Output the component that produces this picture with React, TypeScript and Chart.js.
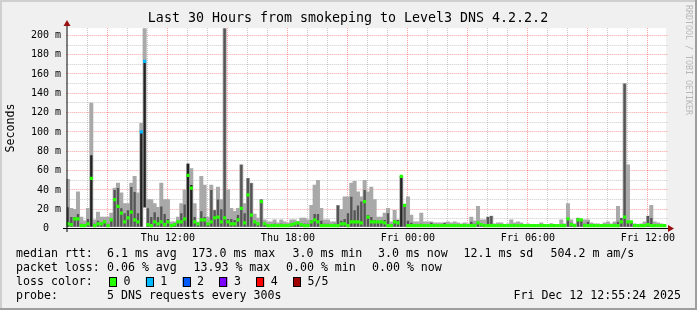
import React, { useEffect, useRef } from "react";
import { Chart, registerables } from "chart.js";
Chart.register(...registerables);

// Time window: Thu 06:55 -> Fri 12:55, 10-minute buckets (minutes counted from Thu 00:00)
const START_MINUTE = 415;
const BUCKET_MINUTES = 10;

// Smoke: max ping (light grey top), 4th ping (dark grey top), median (green), min ping (bottom) in ms
const maxRtt = [
  51, 21, 20, 38, 12, 8, 21, 130, 9, 17, 12, 12,
  12, 16, 42, 47, 37, 26, 26, 47, 54, 37, 109, 207,
  30, 30, 26, 22, 47, 30, 30, 7, 7, 12, 26, 40,
  67, 62, 26, 7, 54, 45, 12, 45, 19, 43, 30, 207,
  40, 21, 18, 21, 66, 26, 52, 47, 15, 11, 30, 9,
  7, 7, 9, 6, 9, 7, 6, 9, 9, 7, 11, 11,
  9, 24, 45, 50, 21, 9, 9, 7, 7, 24, 20, 33,
  33, 47, 49, 38, 33, 50, 38, 43, 30, 12, 12, 16,
  21, 7, 19, 9, 54, 24, 33, 14, 7, 7, 16, 7,
  7, 7, 6, 6, 6, 6, 7, 6, 7, 6, 5, 6,
  5, 12, 8, 23, 9, 9, 12, 13, 5, 6, 6, 4,
  5, 9, 6, 7, 6, 4, 5, 4, 4, 4, 6, 4,
  4, 5, 4, 4, 9, 5, 26, 9, 5, 11, 9, 9,
  9, 6, 5, 5, 4, 6, 7, 5, 7, 23, 11, 150,
  66, 7, 5, 4, 5, 7, 13, 24, 7, 6, 5, 4,
];
const q4Rtt = [
  22, 12, 12, 15, 5, 4, 10, 76, 5, 8, 6, 8,
  5, 10, 40, 42, 21, 16, 19, 43, 38, 16, 100, 173,
  21, 12, 17, 12, 23, 15, 10, 4, 4, 7, 16, 25,
  67, 45, 12, 5, 18, 12, 6, 40, 19, 30, 20, 207,
  10, 10, 9, 14, 66, 16, 52, 47, 8, 6, 30, 5,
  4, 4, 5, 4, 5, 4, 4, 5, 5, 7, 5, 5,
  5, 9, 15, 15, 8, 5, 5, 4, 5, 24, 8, 10,
  16, 33, 19, 24, 28, 40, 14, 12, 9, 8, 7, 9,
  16, 4, 9, 9, 54, 24, 8, 6, 4, 4, 5, 4,
  4, 6, 4, 4, 4, 6, 4, 4, 4, 4, 4, 4,
  4, 7, 5, 6, 5, 4, 12, 13, 4, 4, 4, 4,
  4, 4, 4, 4, 4, 4, 4, 4, 4, 4, 4, 4,
  4, 5, 4, 4, 4, 4, 11, 6, 4, 11, 9, 5,
  7, 4, 4, 4, 4, 4, 4, 4, 5, 7, 11, 150,
  7, 7, 4, 4, 4, 4, 13, 11, 4, 4, 4, 4,
];
const medianRtt = [
  5, 4, 10, 10, 3, 3, 5, 52, 3, 5, 5, 7,
  3, 9, 30, 23, 16, 7, 11, 17, 9, 7, 100, 173,
  4, 3, 7, 5, 7, 4, 7, 3, 4, 7, 7, 10,
  55, 42, 7, 5, 9, 9, 5, 7, 11, 12, 7, 11,
  7, 5, 5, 9, 21, 6, 35, 14, 7, 5, 28, 5,
  3, 3, 3, 3, 3, 3, 3, 4, 5, 6, 4, 3,
  3, 7, 9, 7, 3, 3, 3, 3, 3, 3, 5, 5,
  3, 7, 7, 7, 6, 28, 12, 7, 7, 7, 7, 6,
  3, 3, 7, 6, 54, 24, 3, 3, 3, 3, 3, 3,
  3, 3, 3, 3, 3, 3, 3, 3, 3, 3, 3, 3,
  3, 3, 3, 6, 4, 3, 3, 3, 3, 3, 3, 3,
  3, 3, 3, 3, 3, 3, 3, 3, 3, 3, 3, 3,
  3, 3, 3, 3, 3, 3, 10, 4, 3, 9, 9, 3,
  3, 3, 3, 3, 3, 3, 3, 3, 3, 3, 7, 12,
  7, 7, 3, 3, 3, 3, 4, 3, 3, 3, 3, 3,
];
const minRtt = [
  2, 2, 2, 2, 2, 2, 2, 2, 2, 2, 2, 2,
  2, 2, 2, 2, 2, 2, 2, 2, 2, 2, 2, 22,
  2, 2, 2, 2, 2, 2, 2, 2, 2, 2, 2, 2,
  2, 2, 2, 2, 2, 2, 2, 2, 2, 2, 2, 2,
  2, 2, 2, 2, 2, 2, 2, 2, 2, 2, 2, 2,
  2, 2, 2, 2, 2, 2, 2, 2, 2, 2, 2, 2,
  2, 2, 2, 2, 2, 2, 2, 2, 2, 2, 2, 2,
  2, 2, 2, 2, 2, 2, 2, 2, 2, 2, 2, 2,
  2, 2, 2, 2, 2, 2, 2, 2, 2, 2, 2, 2,
  2, 2, 2, 2, 2, 2, 2, 2, 2, 2, 2, 2,
  2, 2, 2, 2, 2, 2, 2, 2, 2, 2, 2, 2,
  2, 2, 2, 2, 2, 2, 2, 2, 2, 2, 2, 2,
  2, 2, 2, 2, 2, 2, 2, 2, 2, 2, 2, 2,
  2, 2, 2, 2, 2, 2, 2, 2, 2, 2, 2, 2,
  2, 2, 2, 2, 2, 2, 2, 2, 2, 2, 2, 2,
];
// buckets whose median is drawn in a loss colour (index into lossColors)
const lossBuckets = [
  { bucket: 22, loss: 1 },
  { bucket: 23, loss: 1 },
];

const categories = maxRtt.map((_, i) => {
  const m = START_MINUTE + i * BUCKET_MINUTES;
  const d = m >= 1440 ? "Fri" : "Thu";
  const mm = m % 1440;
  return `${d} ${String(Math.floor(mm / 60)).padStart(2, "0")}:${String(mm % 60).padStart(2, "0")}`;
});
const END_MINUTE = START_MINUTE + maxRtt.length * BUCKET_MINUTES;

const xTickLabels = ["Thu 12:00", "Thu 18:00", "Fri 00:00", "Fri 06:00", "Fri 12:00"];
const xTickMinutes = [720, 1080, 1440, 1800, 2160];
const yTickValues = [0, 20, 40, 60, 80, 100, 120, 140, 160, 180, 200];
const yTickLabels = ["  0  ", " 20 m", " 40 m", " 60 m", " 80 m", "100 m", "120 m", "140 m", "160 m", "180 m", "200 m"];
const Y_MAX = 207.6;

const title = "Last 30 Hours from smokeping to Level3 DNS 4.2.2.2";
// legend rows: [text, x] segments
const legendRows: [string, number][][] = [
  [["median rtt:", 16], ["6.1 ms avg", 107], ["173.0 ms max", 191.5], ["3.0 ms min", 292.5], ["3.0 ms now", 378], ["12.1 ms sd", 463.5], ["504.2 m am/s", 550.5]],
  [["packet loss:", 16], ["0.06 % avg", 107], ["13.93 % max", 193.5], ["0.00 % min", 286], ["0.00 % now", 372]],
  [["loss color:", 16]],
  [["probe:", 16], ["5 DNS requests every 300s", 107]],
];
const dateStamp = "Fri Dec 12 12:55:24 2025";
const lossColors = ["#26ff00", "#00b8ff", "#0059ff", "#7e00ff", "#ff0000", "#a10000"];
const lossLabels = ["0", "1", "2", "3", "4", "5/5"];

const MONO = "'DejaVu Sans Mono', monospace";

function minuteToPixel(chart: any, m: number) {
  const x = chart.scales.x;
  return x.getPixelForValue((m - START_MINUTE) / BUCKET_MINUTES - 0.5);
}

const rrdPlugin = {
  id: "rrd",
  beforeDraw(chart: any) {
    const { ctx, width, height, chartArea: a } = chart;
    ctx.save();
    ctx.fillStyle = "#F0F0F0";
    ctx.fillRect(0, 0, width, height);
    ctx.fillStyle = "#CFCFCF";
    ctx.fillRect(0, 0, width, 2);
    ctx.fillRect(0, 0, 2, height);
    ctx.fillStyle = "#9E9E9E";
    ctx.fillRect(0, height - 2, width, 2);
    ctx.fillRect(width - 2, 0, 2, height);
    ctx.fillStyle = "#FFFFFF";
    ctx.fillRect(a.left, a.top, a.right - a.left, a.bottom - a.top);
    ctx.restore();
  },
  beforeDatasetsDraw(chart: any) {
    const { ctx, chartArea: a, scales } = chart;
    const y = scales.y;
    ctx.save();
    ctx.lineWidth = 1;
    ctx.setLineDash([1, 1]);
    for (let v = 10; v <= 200; v += 10) {
      const py = Math.floor(y.getPixelForValue(v)) + 0.5;
      ctx.strokeStyle = v % 20 === 0 ? "rgba(255,0,0,0.38)" : "rgba(128,128,128,0.42)";
      ctx.beginPath();
      ctx.moveTo(a.left, py);
      ctx.lineTo(a.right + 1, py);
      ctx.stroke();
    }
    for (let h = Math.ceil(START_MINUTE / 60); h * 60 <= END_MINUTE; h++) {
      const px = Math.floor(minuteToPixel(chart, h * 60)) + 0.5;
      if (px < a.left + 2) continue;
      ctx.strokeStyle = h % 3 === 0 ? "rgba(255,0,0,0.38)" : "rgba(128,128,128,0.42)";
      ctx.beginPath();
      ctx.moveTo(px, a.top);
      ctx.lineTo(px, a.bottom);
      ctx.stroke();
    }
    ctx.restore();
  },
  afterDraw(chart: any) {
    const { ctx, scales } = chart;
    const y = scales.y;
    ctx.save();
    ctx.strokeStyle = "#000";
    ctx.lineWidth = 1;
    ctx.beginPath();
    ctx.moveTo(63, 228.5);
    ctx.lineTo(669, 228.5);
    ctx.stroke();
    ctx.beginPath();
    ctx.moveTo(67, 232);
    ctx.lineTo(67, 25);
    ctx.stroke();
    ctx.fillStyle = "#9a1010";
    ctx.beginPath();
    ctx.moveTo(668, 225);
    ctx.lineTo(674, 228.5);
    ctx.lineTo(668, 232);
    ctx.closePath();
    ctx.fill();
    ctx.beginPath();
    ctx.moveTo(63.5, 26);
    ctx.lineTo(67, 20);
    ctx.lineTo(70.5, 26);
    ctx.closePath();
    ctx.fill();

    ctx.fillStyle = "#000";
    ctx.font = `13.3px ${MONO}`;
    ctx.textAlign = "center";
    ctx.textBaseline = "middle";
    ctx.fillText(title, 348, 19);
    ctx.font = `10px ${MONO}`;
    ctx.textAlign = "right";
    yTickValues.forEach((v, i) => {
      ctx.fillText(yTickLabels[i], 61, y.getPixelForValue(v));
    });
    ctx.textAlign = "center";
    xTickMinutes.forEach((m, i) => {
      ctx.fillText(xTickLabels[i], minuteToPixel(chart, m), 238);
    });
    ctx.font = `11.6px ${MONO}`;
    ctx.save();
    ctx.translate(11, 128);
    ctx.rotate(-Math.PI / 2);
    ctx.textAlign = "center";
    ctx.fillText("Seconds", 0, 0);
    ctx.restore();
    ctx.textAlign = "left";
    const rows = [254, 268, 282, 296];
    legendRows.forEach((segs, r) => segs.forEach(([t, x]) => ctx.fillText(t, x, rows[r])));
    lossColors.forEach((c, k) => {
      const bx = 109 + k * 36.8;
      ctx.fillStyle = c;
      ctx.fillRect(bx, 277, 8, 10);
      ctx.strokeStyle = "#000";
      ctx.lineWidth = 1;
      ctx.strokeRect(Math.round(bx) + 0.5, 277.5, 7, 9);
      ctx.fillStyle = "#000";
      ctx.fillText(lossLabels[k], bx + 14.5, rows[2]);
    });
    ctx.textAlign = "right";
    ctx.fillText(dateStamp, 681, rows[3]);
    ctx.save();
    ctx.font = `8.3px ${MONO}`;
    ctx.fillStyle = "#b8b8b8";
    ctx.translate(688, 5);
    ctx.rotate(Math.PI / 2);
    ctx.textAlign = "left";
    ctx.textBaseline = "middle";
    ctx.fillText("RRDTOOL / TOBI OETIKER", 0, 0);
    ctx.restore();
    ctx.restore();
  },
};

export default function App() {
  const ref = useRef<HTMLCanvasElement>(null);
  useEffect(() => {
    const lossMap = new Map(lossBuckets.map((l) => [l.bucket, l.loss]));
    const chart = new Chart(ref.current as HTMLCanvasElement, {
      type: "bar",
      data: {
        labels: categories,
        datasets: [
          {
            type: "bar",
            data: maxRtt.map((v, i) => [minRtt[i], v]) as any,
            backgroundColor: "#a9a9a9",
            borderWidth: 0,
            grouped: false,
            barPercentage: 1,
            categoryPercentage: 1,
            order: 3,
          } as any,
          {
            type: "bar",
            data: q4Rtt.map((v, i) => [minRtt[i], v]) as any,
            backgroundColor: (c: any) => (medianRtt[c.dataIndex] >= 40 ? "#222222" : "#555555"),
            borderWidth: 0,
            grouped: false,
            barPercentage: 0.7,
            categoryPercentage: 1,
            order: 2,
          } as any,
          {
            type: "line",
            data: medianRtt,
            showLine: false,
            pointStyle: "rect",
            pointRadius: 2.3,
            pointBorderWidth: 0,
            pointBackgroundColor: medianRtt.map((_, i) => lossColors[lossMap.get(i) ?? 0]),
            order: 1,
          } as any,
        ],
      },
      options: {
        responsive: false,
        animation: false,
        devicePixelRatio: 1,
        events: [],
        layout: { padding: { left: 66.3, right: 30.7, top: 28, bottom: 81.4 } },
        plugins: { legend: { display: false }, tooltip: { enabled: false } },
        scales: {
          x: { type: "category", display: false, offset: true },
          y: { type: "linear", display: false, min: 0, max: Y_MAX },
        },
      } as any,
      plugins: [rrdPlugin],
    });
    return () => chart.destroy();
  }, []);
  return (
    <div style={{ position: "fixed", left: 0, top: 0, width: 697, height: 310 }}>
      <canvas ref={ref} width={697} height={310} style={{ display: "block", width: 697, height: 310 }} />
    </div>
  );
}
